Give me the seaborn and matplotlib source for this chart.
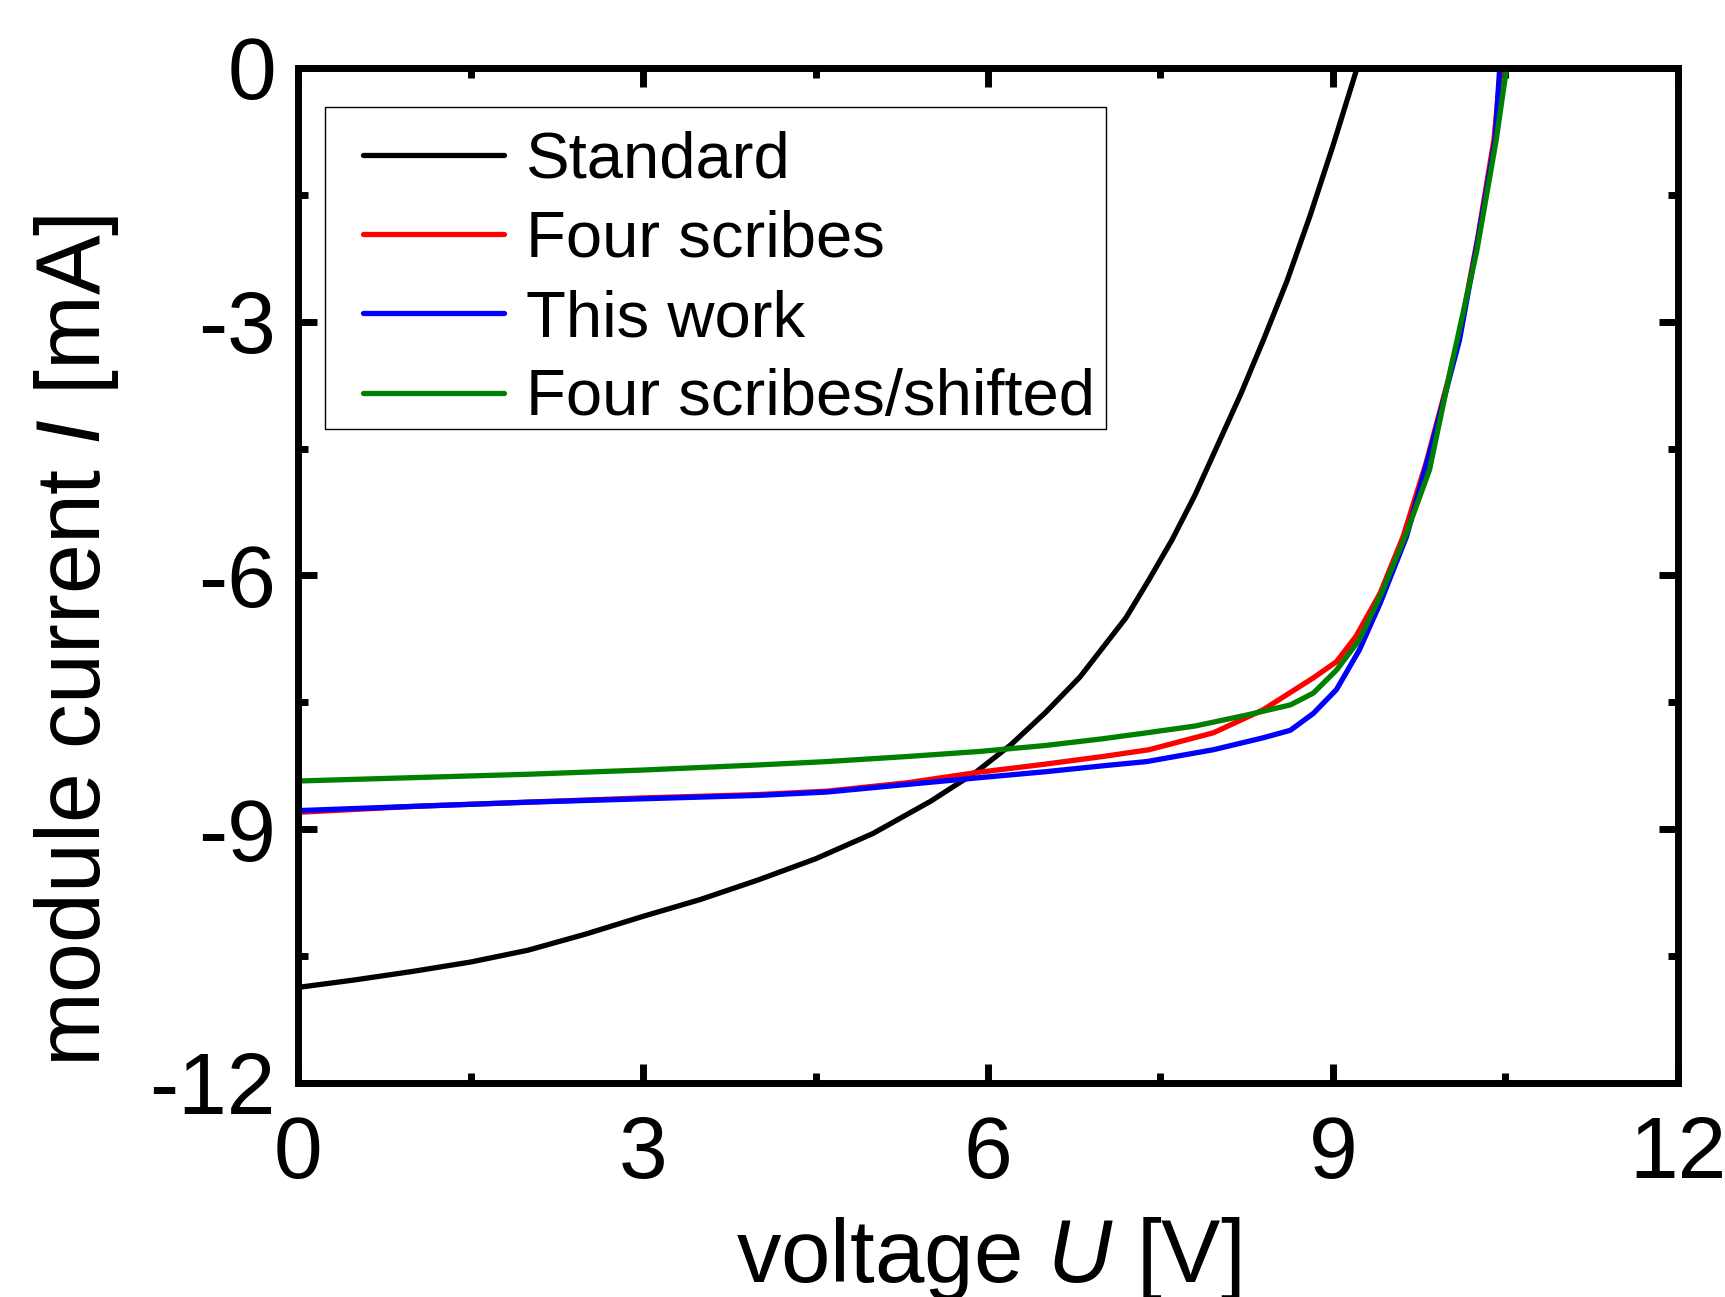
import numpy as np
import pandas as pd
import matplotlib
matplotlib.use('Agg')
import matplotlib.pyplot as plt
from matplotlib.ticker import MultipleLocator
from matplotlib.patches import Rectangle
import seaborn as sns

# ── DATA ────────────────────────────────────────────────────────
u_standard = [0, 0.5, 1.0, 1.5, 2.0, 2.5, 3.0, 3.5, 4.0, 4.5, 5.0, 5.5, 5.9,
              6.2, 6.5, 6.8, 7.0, 7.2, 7.4, 7.6, 7.8, 8.0, 8.2, 8.4, 8.6,
              8.8, 9.0, 9.21]
i_standard = [-10.87, -10.78, -10.68, -10.57, -10.43, -10.24, -10.03, -9.83,
              -9.60, -9.35, -9.05, -8.67, -8.32, -8.00, -7.62, -7.20, -6.85,
              -6.50, -6.05, -5.58, -5.05, -4.45, -3.85, -3.20, -2.52, -1.75,
              -0.92, 0.0]

u_four = [0, 1, 2, 3, 4, 4.6, 5.3, 5.9, 6.5, 7.0, 7.4, 7.96, 8.39, 8.83, 9.03,
          9.2, 9.41, 9.61, 9.81, 10.0, 10.1, 10.26, 10.4, 10.46]
i_four = [-8.80, -8.73, -8.68, -8.63, -8.59, -8.55, -8.45, -8.33, -8.23, -8.14,
          -8.06, -7.86, -7.59, -7.21, -7.02, -6.72, -6.21, -5.54, -4.67, -3.70,
          -3.15, -2.00, -0.85, 0.0]

u_this = [0, 1, 2, 3, 4, 4.6, 5.3, 5.93, 6.5, 7.0, 7.38, 7.96, 8.39, 8.63, 8.83,
          9.03, 9.23, 9.41, 9.64, 9.87, 10.1, 10.26, 10.41, 10.45]
i_this = [-8.78, -8.73, -8.68, -8.64, -8.60, -8.56, -8.47, -8.39, -8.32, -8.25,
          -8.20, -8.06, -7.92, -7.83, -7.63, -7.35, -6.88, -6.33, -5.54, -4.40,
          -3.22, -2.03, -0.85, 0.0]

u_shift = [0, 1, 2, 3, 4, 4.6, 5.3, 5.93, 6.5, 7.0, 7.38, 7.8, 8.25, 8.63, 8.83,
           9.03, 9.23, 9.41, 9.64, 9.84, 10.03, 10.25, 10.42, 10.51]
i_shift = [-8.43, -8.39, -8.35, -8.30, -8.24, -8.20, -8.14, -8.08, -8.01, -7.93,
           -7.86, -7.78, -7.65, -7.53, -7.39, -7.12, -6.76, -6.25, -5.50, -4.75,
           -3.52, -2.17, -0.85, 0.0]

series_names = ['Standard', 'Four scribes', 'This work', 'Four scribes/shifted']
series_colors = ['black', 'red', 'blue', 'green']

x_ticks = [0, 3, 6, 9, 12]
y_ticks = [-12, -9, -6, -3, 0]

# long-form table for seaborn
df = pd.concat([
    pd.DataFrame({'U': u_standard, 'I': i_standard, 'series': 'Standard'}),
    pd.DataFrame({'U': u_four, 'I': i_four, 'series': 'Four scribes'}),
    pd.DataFrame({'U': u_this, 'I': i_this, 'series': 'This work'}),
    pd.DataFrame({'U': u_shift, 'I': i_shift, 'series': 'Four scribes/shifted'}),
], ignore_index=True)

# ── STYLE ───────────────────────────────────────────────────────
sns.set_style('ticks')
plt.rcParams['font.family'] = ['Liberation Sans', 'DejaVu Sans']
plt.rcParams['mathtext.fontset'] = 'custom'
plt.rcParams['mathtext.rm'] = 'Liberation Sans'
plt.rcParams['mathtext.it'] = 'Liberation Sans:italic'
plt.rcParams['axes.unicode_minus'] = False
for key in ['text.color', 'axes.labelcolor', 'xtick.color', 'ytick.color',
            'axes.edgecolor']:
    plt.rcParams[key] = 'black'

fig = plt.figure(figsize=(17.25, 12.97), dpi=100)
ax = fig.add_axes([0.1728, 0.165, 0.7999, 0.7826])

sns.lineplot(data=df, x='U', y='I', hue='series', hue_order=series_names,
             palette=dict(zip(series_names, series_colors)),
             estimator=None, sort=True, linewidth=3.8, ax=ax)

ax.set_xlim(0, 12)
ax.set_ylim(-12, 0)
ax.set_xticks(x_ticks)
ax.set_yticks(y_ticks)
ax.xaxis.set_minor_locator(MultipleLocator(1.5))
ax.yaxis.set_minor_locator(MultipleLocator(1.5))

for s in ax.spines.values():
    s.set_linewidth(5)
    s.set_color('black')

ax.tick_params(which='both', direction='in', top=True, right=True,
               width=5, color='black')
ax.tick_params(which='major', length=14, labelsize=63)
ax.tick_params(which='minor', length=7)
ax.tick_params(axis='x', which='major', pad=23)
ax.tick_params(axis='y', which='major', pad=16)

ax.set_xlabel('voltage $\\mathit{U}$ [V]', fontsize=64)
ax.set_ylabel('module current $\\mathit{I}$ [mA]', fontsize=64.5)
ax.xaxis.set_label_coords(0.5, -0.130)
ax.yaxis.set_label_coords(-0.1286, 0.4356)

# legend frame drawn as a plain square box, legend entries placed inside it
ax.add_patch(Rectangle((0.0196, 0.6443), 0.5659, 0.3173, transform=ax.transAxes,
                       facecolor='white', edgecolor='black', linewidth=1.0,
                       zorder=4))
leg = ax.legend(loc='upper left', bbox_to_anchor=(0.0471, 0.9382),
                borderaxespad=0, borderpad=0, fontsize=47, frameon=False,
                handlelength=2.16, handletextpad=0.34, labelspacing=0.295)
leg.set_zorder(5)
for line in leg.get_lines():
    line.set_linewidth(3.8)

fig.savefig('out.png', dpi=100, facecolor='white')
